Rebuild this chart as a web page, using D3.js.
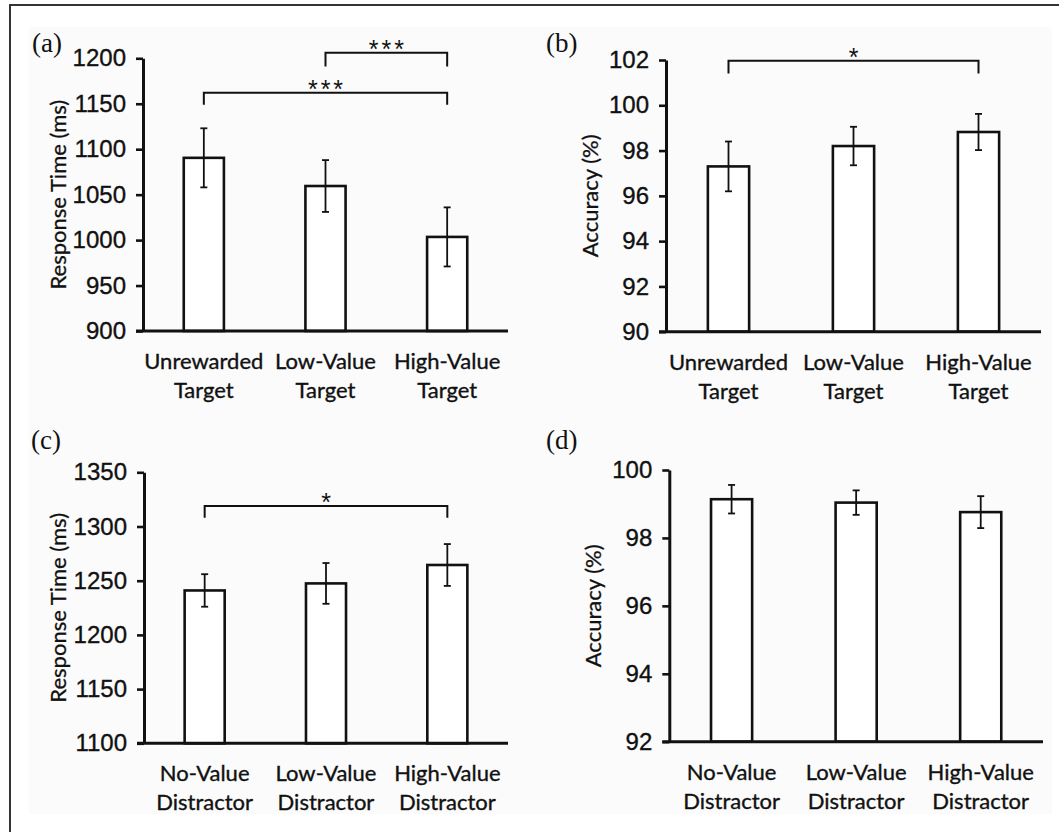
<!DOCTYPE html>
<html>
<head>
<meta charset="utf-8">
<script src="https://cdn.jsdelivr.net/npm/d3@7"></script>
<style>
  body { margin: 0; background: #fff; }
  svg { display: block; font-family: Lato, "Open Sans", sans-serif; }
  .tick text { font-size: 24px; fill: #111; stroke: #111; stroke-width: 0.35px; }
  .cat { font-size: 22px; fill: #111; stroke: #111; stroke-width: 0.35px; }
  .ytitle { font-size: 22px; fill: #111; stroke: #111; stroke-width: 0.3px; }
  .plabel { font-family: "Liberation Serif", "DejaVu Serif", serif; font-size: 27px; fill: #111; }
  .stars { font-family: "Liberation Sans", Arial, sans-serif; font-size: 25px; fill: #111; letter-spacing: 3px; }
</style>
</head>
<body>
<div id="chart"></div>
<script>
// categories
const targetLabels = [['Unrewarded', 'Target'], ['Low-Value', 'Target'], ['High-Value', 'Target']]
const distractorLabels = [['No-Value', 'Distractor'], ['Low-Value', 'Distractor'], ['High-Value', 'Distractor']]

// (a) response time, targets
const rtTargetMeans = [1090.5, 1059.5, 1003.5]
const rtTargetErrors = [32.5, 28.5, 32.5]
const rtTargetTicks = [900, 950, 1000, 1050, 1100, 1150, 1200]
const rtTargetSig = [
  { from: 0, to: 2, level: 1162, tip: 1149, label: '***' },
  { from: 1, to: 2, level: 1206, tip: 1191, label: '***' }
]

// (b) accuracy, targets
const accTargetMeans = [97.3, 98.2, 98.82]
const accTargetErrors = [1.1, 0.85, 0.8]
const accTargetTicks = [90, 92, 94, 96, 98, 100, 102]
const accTargetSig = [
  { from: 0, to: 2, level: 101.97, tip: 101.4, label: '*' }
]

// (c) response time, distractors
const rtDistractorMeans = [1241, 1247.5, 1264.5]
const rtDistractorErrors = [15, 18.8, 19.3]
const rtDistractorTicks = [1100, 1150, 1200, 1250, 1300, 1350]
const rtDistractorSig = [
  { from: 0, to: 2, level: 1319, tip: 1308, label: '*' }
]

// (d) accuracy, distractors
const accDistractorMeans = [99.14, 99.04, 98.76]
const accDistractorErrors = [0.42, 0.36, 0.47]
const accDistractorTicks = [92, 94, 96, 98, 100]

const panels = [
  { tag: '(a)', cats: targetLabels, means: rtTargetMeans, errs: rtTargetErrors, ticks: rtTargetTicks, sig: rtTargetSig,
    title: 'Response Time (ms)', box: { x0: 143, x1: 508, y0: 58.3, y1: 331 }, tagPos: [32, 52], titleX: 58 },
  { tag: '(b)', cats: targetLabels, means: accTargetMeans, errs: accTargetErrors, ticks: accTargetTicks, sig: accTargetSig,
    title: 'Accuracy (%)', box: { x0: 666, x1: 1041, y0: 60, y1: 331.7 }, tagPos: [546, 52], titleX: 590 },
  { tag: '(c)', cats: distractorLabels, means: rtDistractorMeans, errs: rtDistractorErrors, ticks: rtDistractorTicks, sig: rtDistractorSig,
    title: 'Response Time (ms)', box: { x0: 144, x1: 508, y0: 472.3, y1: 743.3 }, tagPos: [31, 449], titleX: 58 },
  { tag: '(d)', cats: distractorLabels, means: accDistractorMeans, errs: accDistractorErrors, ticks: accDistractorTicks, sig: [],
    title: 'Accuracy (%)', box: { x0: 669.3, x1: 1043, y0: 470, y1: 741.7 }, tagPos: [546, 449], titleX: 593 }
]

const width = 1059
const height = 832

const svg = d3.select('#chart')
  .append('svg')
  .attr('width', width)
  .attr('height', height)

// faint figure background and the frame lines
svg.append('rect')
  .attr('x', 29).attr('y', 27)
  .attr('width', 1023).attr('height', 787)
  .attr('fill', '#fbfbfb')

svg.append('path')
  .attr('d', 'M10,832 L10,5 L1059,5')
  .attr('fill', 'none')
  .attr('stroke', '#333')
  .attr('stroke-width', 2)

renderPanel = (p) => {
  const { box } = p
  const g = svg.append('g')

  const x = d3.scaleBand()
    .domain(p.cats.map((d, i) => i))
    .range([box.x0, box.x1])
    .paddingInner(0.67)
    .paddingOuter(0.335)

  const y = d3.scaleLinear()
    .domain(d3.extent(p.ticks))
    .range([box.y1, box.y0])

  // bars
  g.selectAll('rect.bar')
    .data(p.means)
    .enter()
    .append('rect')
    .attr('class', 'bar')
    .attr('x', (d, i) => x(i))
    .attr('y', d => y(d))
    .attr('width', x.bandwidth())
    .attr('height', d => box.y1 - y(d))
    .attr('fill', '#fff')
    .attr('stroke', '#111')
    .attr('stroke-width', 2.6)

  // error bars
  const cx = i => x(i) + x.bandwidth() / 2
  const eb = g.selectAll('g.err')
    .data(p.means)
    .enter()
    .append('g')
    .attr('class', 'err')
    .attr('stroke', '#111')
    .attr('stroke-width', 1.8)

  eb.append('line')
    .attr('x1', (d, i) => cx(i)).attr('x2', (d, i) => cx(i))
    .attr('y1', (d, i) => y(d + p.errs[i])).attr('y2', (d, i) => y(d - p.errs[i]))
  eb.append('line')
    .attr('x1', (d, i) => cx(i) - 3.5).attr('x2', (d, i) => cx(i) + 3.5)
    .attr('y1', (d, i) => y(d + p.errs[i])).attr('y2', (d, i) => y(d + p.errs[i]))
  eb.append('line')
    .attr('x1', (d, i) => cx(i) - 3.5).attr('x2', (d, i) => cx(i) + 3.5)
    .attr('y1', (d, i) => y(d - p.errs[i])).attr('y2', (d, i) => y(d - p.errs[i]))

  // y axis
  const yAxis = g.append('g')
    .attr('transform', `translate(${box.x0},0)`)
    .call(d3.axisLeft(y).tickValues(p.ticks).tickFormat(d3.format('d')).tickSize(7).tickPadding(10).tickSizeOuter(0))
  yAxis.selectAll('path, line').attr('stroke', '#111').attr('stroke-width', 2.6)
  yAxis.select('.domain').attr('stroke-width', 3)

  // x axis line only
  g.append('line')
    .attr('x1', box.x0 - 7).attr('x2', box.x1)
    .attr('y1', box.y1).attr('y2', box.y1)
    .attr('stroke', '#111')
    .attr('stroke-width', 3)

  // category labels, two lines each
  const cat = g.selectAll('text.cat')
    .data(p.cats)
    .enter()
    .append('text')
    .attr('class', 'cat')
    .attr('text-anchor', 'middle')
    .attr('x', (d, i) => cx(i))
    .attr('y', box.y1 + 38)
  cat.append('tspan')
    .attr('x', (d, i) => cx(i))
    .text(d => d[0])
  cat.append('tspan')
    .attr('x', (d, i) => cx(i))
    .attr('dy', 29)
    .text(d => d[1])

  // y title
  g.append('text')
    .attr('class', 'ytitle')
    .attr('text-anchor', 'middle')
    .attr('transform', `translate(${p.titleX},${(box.y0 + box.y1) / 2}) rotate(-90)`)
    .attr('dy', '0.35em')
    .text(p.title)

  // significance brackets
  p.sig.forEach(s => {
    const xa = cx(s.from)
    const xb = cx(s.to)
    g.append('path')
      .attr('d', `M${xa},${y(s.tip)} L${xa},${y(s.level)} L${xb},${y(s.level)} L${xb},${y(s.tip)}`)
      .attr('fill', 'none')
      .attr('stroke', '#111')
      .attr('stroke-width', 2)
    g.append('text')
      .attr('class', 'stars')
      .attr('text-anchor', 'middle')
      .attr('x', (xa + xb) / 2 + 1.5)
      .attr('y', y(s.level) + 5)
      .text(s.label)
  })

  // panel tag
  g.append('text')
    .attr('class', 'plabel')
    .attr('x', p.tagPos[0])
    .attr('y', p.tagPos[1])
    .text(p.tag)
}

panels.forEach(p => renderPanel(p))
</script>
</body>
</html>
